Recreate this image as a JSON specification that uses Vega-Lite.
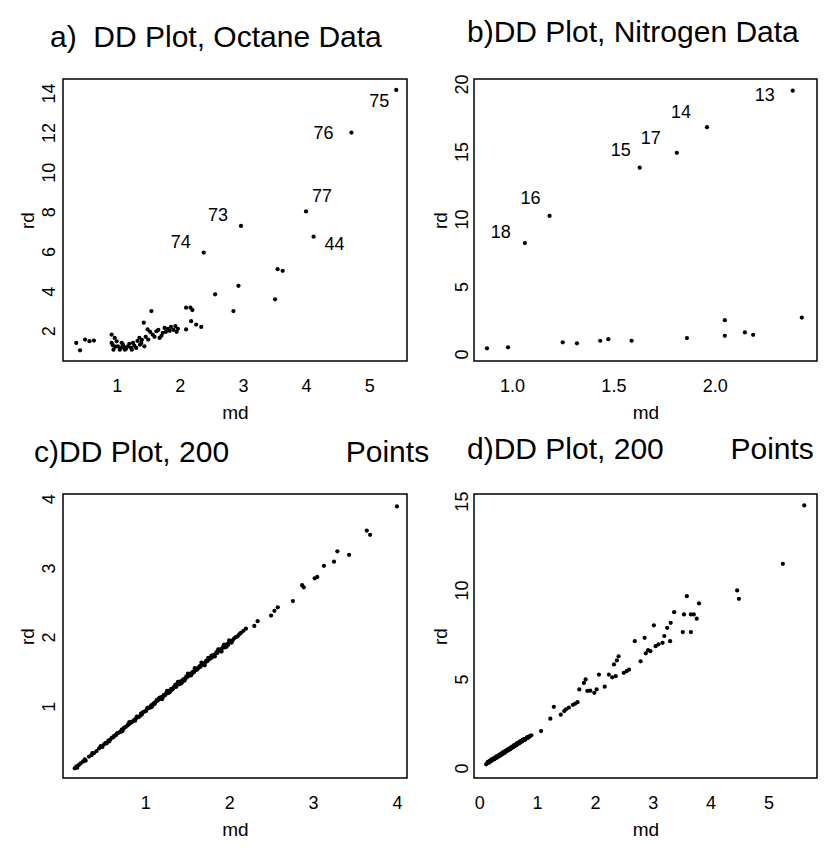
{
  "$schema": "https://vega.github.io/schema/vega-lite/v6.json",
  "padding": {"left": 17, "top": 17, "right": 5, "bottom": 5},
  "background": "white",
  "columns": 2,
  "bounds": "flush",
  "spacing": {"row": 133, "column": 67},
  "datasets": {
    "a": [
      {"md":0.36,"rd":1.39},{"md":0.42,"rd":1.02},{"md":0.50,"rd":1.56},{"md":0.57,"rd":1.48},{"md":0.64,"rd":1.51},
      {"md":0.92,"rd":1.81},{"md":0.92,"rd":1.39},{"md":0.95,"rd":1.05},{"md":0.97,"rd":1.64},{"md":1.00,"rd":1.47},
      {"md":1.02,"rd":1.22},{"md":1.05,"rd":1.05},{"md":1.10,"rd":1.30},{"md":1.13,"rd":1.05},{"md":1.18,"rd":1.22},
      {"md":1.23,"rd":1.14},{"md":1.26,"rd":1.39},{"md":1.31,"rd":1.14},{"md":1.36,"rd":1.64},{"md":1.39,"rd":1.39},
      {"md":1.44,"rd":1.22},{"md":1.43,"rd":2.41},{"md":1.55,"rd":3.00},{"md":1.49,"rd":2.07},{"md":1.57,"rd":1.81},
      {"md":1.50,"rd":1.56},{"md":1.63,"rd":1.98},{"md":1.68,"rd":1.64},{"md":1.73,"rd":1.90},{"md":1.76,"rd":2.15},
      {"md":1.81,"rd":2.10},{"md":1.86,"rd":2.20},{"md":1.90,"rd":2.05},{"md":1.93,"rd":2.24},{"md":1.97,"rd":2.10},
      {"md":2.10,"rd":2.07},{"md":2.18,"rd":2.49},{"md":2.26,"rd":2.32},{"md":2.34,"rd":2.20},{"md":2.10,"rd":3.17},
      {"md":2.17,"rd":3.17},{"md":2.20,"rd":3.05},{"md":2.93,"rd":4.27},{"md":2.56,"rd":3.84},{"md":2.85,"rd":3.00},
      {"md":3.55,"rd":5.11},{"md":3.63,"rd":5.03},{"md":3.51,"rd":3.59},
      {"md":1.07,"rd":1.15},{"md":1.15,"rd":1.10},{"md":1.20,"rd":1.35},{"md":1.28,"rd":1.25},{"md":1.33,"rd":1.50},
      {"md":0.98,"rd":1.20},{"md":1.08,"rd":1.40},{"md":1.40,"rd":1.55},{"md":1.46,"rd":1.70},{"md":1.53,"rd":1.95},
      {"md":1.60,"rd":1.70},{"md":1.66,"rd":2.05},{"md":1.71,"rd":1.75},{"md":1.78,"rd":1.95},{"md":1.84,"rd":2.00},
      {"md":1.95,"rd":1.95},{"md":1.12,"rd":1.18},{"md":1.24,"rd":1.05},{"md":0.94,"rd":1.28},{"md":1.37,"rd":1.30},
      {"md":2.38,"rd":5.95,"lab":"74"},{"md":2.97,"rd":7.29,"lab":"73"},{"md":4.00,"rd":8.02,"lab":"77"},
      {"md":4.12,"rd":6.75,"lab":"44"},{"md":4.72,"rd":12.00,"lab":"76"},{"md":5.43,"rd":14.15,"lab":"75"}
    ],
    "b": [
      {"md":0.876,"rd":0.42},{"md":0.98,"rd":0.49},{"md":1.25,"rd":0.86},{"md":1.32,"rd":0.79},{"md":1.435,"rd":0.98},
      {"md":1.475,"rd":1.10},{"md":1.59,"rd":0.98},{"md":1.863,"rd":1.18},{"md":2.05,"rd":2.50},{"md":2.05,"rd":1.35},
      {"md":2.149,"rd":1.60},{"md":2.19,"rd":1.42},{"md":2.43,"rd":2.70},
      {"md":2.385,"rd":19.5,"lab":"13"},{"md":1.962,"rd":16.8,"lab":"14"},{"md":1.813,"rd":14.9,"lab":"17"},
      {"md":1.63,"rd":13.8,"lab":"15"},{"md":1.185,"rd":10.23,"lab":"16"},{"md":1.063,"rd":8.22,"lab":"18"}
    ],
    "c": [
      {"md":0.16,"rd":0.10},{"md":0.18,"rd":0.13},{"md":0.19,"rd":0.11},{"md":0.21,"rd":0.15},{"md":0.23,"rd":0.17},
      {"md":0.26,"rd":0.20},{"md":0.28,"rd":0.23},{"md":0.29,"rd":0.21},{"md":0.33,"rd":0.27},{"md":0.36,"rd":0.29},
      {"md":0.37,"rd":0.32},{"md":0.39,"rd":0.32},{"md":0.42,"rd":0.35},{"md":0.45,"rd":0.39},{"md":0.47,"rd":0.42},
      {"md":0.49,"rd":0.41},{"md":0.51,"rd":0.45},{"md":0.53,"rd":0.47},{"md":0.54,"rd":0.46},{"md":0.56,"rd":0.50},
      {"md":0.58,"rd":0.51},{"md":0.60,"rd":0.54},{"md":0.62,"rd":0.55},{"md":0.63,"rd":0.57},{"md":0.65,"rd":0.58},
      {"md":0.67,"rd":0.61},{"md":0.69,"rd":0.62},{"md":0.71,"rd":0.63},{"md":0.72,"rd":0.66},{"md":0.74,"rd":0.67},
      {"md":0.75,"rd":0.69},{"md":0.77,"rd":0.70},{"md":0.79,"rd":0.72},{"md":0.80,"rd":0.74},{"md":0.82,"rd":0.75},
      {"md":0.84,"rd":0.77},{"md":0.85,"rd":0.78},{"md":0.87,"rd":0.80},{"md":0.89,"rd":0.82},{"md":0.90,"rd":0.85},
      {"md":0.92,"rd":0.84},{"md":0.94,"rd":0.86},{"md":0.96,"rd":0.88},{"md":0.97,"rd":0.91},{"md":0.99,"rd":0.92},
      {"md":1.01,"rd":0.93},{"md":1.02,"rd":0.96},{"md":1.04,"rd":0.97},{"md":1.06,"rd":0.98},{"md":1.07,"rd":1.01},
      {"md":1.09,"rd":1.02},{"md":1.10,"rd":1.04},{"md":1.12,"rd":1.05},{"md":1.13,"rd":1.07},{"md":1.15,"rd":1.08},
      {"md":1.16,"rd":1.10},{"md":1.18,"rd":1.11},{"md":1.19,"rd":1.13},{"md":1.21,"rd":1.13},{"md":1.22,"rd":1.16},
      {"md":1.24,"rd":1.16},{"md":1.25,"rd":1.19},{"md":1.27,"rd":1.19},{"md":1.28,"rd":1.22},{"md":1.30,"rd":1.22},
      {"md":1.31,"rd":1.25},{"md":1.32,"rd":1.24},{"md":1.34,"rd":1.27},{"md":1.35,"rd":1.29},{"md":1.37,"rd":1.28},
      {"md":1.38,"rd":1.31},{"md":1.40,"rd":1.33},{"md":1.41,"rd":1.32},{"md":1.42,"rd":1.36},{"md":1.44,"rd":1.35},
      {"md":1.45,"rd":1.38},{"md":1.46,"rd":1.39},{"md":1.48,"rd":1.40},{"md":1.49,"rd":1.43},{"md":1.50,"rd":1.42},
      {"md":1.52,"rd":1.45},{"md":1.53,"rd":1.44},{"md":1.54,"rd":1.47},{"md":1.56,"rd":1.48},{"md":1.57,"rd":1.50},
      {"md":1.58,"rd":1.49},{"md":1.60,"rd":1.52},{"md":1.61,"rd":1.54},{"md":1.62,"rd":1.53},{"md":1.64,"rd":1.56},
      {"md":1.65,"rd":1.58},{"md":1.66,"rd":1.57},{"md":1.68,"rd":1.60},{"md":1.69,"rd":1.62},{"md":1.70,"rd":1.61},
      {"md":1.72,"rd":1.64},{"md":1.73,"rd":1.66},{"md":1.74,"rd":1.65},{"md":1.76,"rd":1.68},{"md":1.77,"rd":1.70},
      {"md":1.78,"rd":1.69},{"md":1.80,"rd":1.71},{"md":1.81,"rd":1.74},{"md":1.82,"rd":1.73},{"md":1.84,"rd":1.76},
      {"md":1.85,"rd":1.78},{"md":1.86,"rd":1.77},{"md":1.88,"rd":1.80},{"md":1.89,"rd":1.82},{"md":1.90,"rd":1.81},
      {"md":1.92,"rd":1.84},{"md":1.93,"rd":1.86},{"md":1.95,"rd":1.85},{"md":1.96,"rd":1.88},{"md":1.98,"rd":1.90},
      {"md":1.99,"rd":1.89},{"md":2.01,"rd":1.93},{"md":2.02,"rd":1.94},{"md":2.04,"rd":1.95},{"md":2.06,"rd":1.98},
      {"md":2.08,"rd":2.00},{"md":2.10,"rd":2.01},{"md":2.12,"rd":2.04},{"md":2.14,"rd":2.06},{"md":2.17,"rd":2.09},
      {"md":2.20,"rd":2.12},
      {"md":1.33,"rd":1.25},{"md":1.39,"rd":1.35},{"md":1.47,"rd":1.37},{"md":1.51,"rd":1.47},{"md":1.55,"rd":1.45},
      {"md":1.59,"rd":1.55},{"md":1.63,"rd":1.55},{"md":1.67,"rd":1.63},{"md":1.71,"rd":1.59},{"md":1.75,"rd":1.70},
      {"md":1.79,"rd":1.73},{"md":1.83,"rd":1.72},{"md":1.87,"rd":1.82},{"md":1.91,"rd":1.79},{"md":1.94,"rd":1.89},
      {"md":1.97,"rd":1.86},{"md":2.00,"rd":1.95},{"md":2.03,"rd":1.92},{"md":1.26,"rd":1.22},{"md":1.20,"rd":1.10},
      {"md":1.14,"rd":1.09},{"md":1.08,"rd":0.99},{"md":1.03,"rd":0.98},{"md":0.95,"rd":0.89},{"md":0.88,"rd":0.79},
      {"md":0.81,"rd":0.77},{"md":0.73,"rd":0.64},{"md":0.66,"rd":0.60},{"md":0.57,"rd":0.49},{"md":1.43,"rd":1.33},
      {"md":1.36,"rd":1.31},{"md":1.29,"rd":1.20},{"md":1.17,"rd":1.12},{"md":1.11,"rd":1.03},
      {"md":2.30,"rd":2.16},{"md":2.34,"rd":2.23},{"md":2.50,"rd":2.31},{"md":2.54,"rd":2.38},{"md":2.58,"rd":2.43},
      {"md":2.76,"rd":2.52},{"md":2.87,"rd":2.75},{"md":2.89,"rd":2.72},{"md":3.02,"rd":2.85},{"md":3.05,"rd":2.87},
      {"md":3.13,"rd":3.03},{"md":3.25,"rd":3.09},{"md":3.29,"rd":3.24},{"md":3.43,"rd":3.19},{"md":3.64,"rd":3.54},
      {"md":3.68,"rd":3.48},{"md":4.00,"rd":3.89}
    ],
    "d": [
      {"md":5.62,"rd":14.76},{"md":5.25,"rd":11.48},{"md":4.46,"rd":9.98},{"md":4.49,"rd":9.51},{"md":3.59,"rd":9.66},
      {"md":3.80,"rd":9.25},{"md":3.71,"rd":8.63},{"md":3.76,"rd":8.39},{"md":3.66,"rd":8.63},{"md":3.37,"rd":8.76},
      {"md":3.54,"rd":8.63},{"md":3.02,"rd":8.02},{"md":3.31,"rd":8.16},{"md":3.25,"rd":7.88},{"md":3.20,"rd":7.42},
      {"md":3.17,"rd":7.04},{"md":3.52,"rd":7.64},{"md":3.66,"rd":7.64},{"md":3.30,"rd":7.13},{"md":2.86,"rd":7.32},
      {"md":2.69,"rd":7.13},{"md":2.96,"rd":6.57},{"md":3.05,"rd":6.85},{"md":3.10,"rd":6.95},{"md":2.79,"rd":6.00},
      {"md":2.88,"rd":6.45},{"md":2.92,"rd":6.62},{"md":2.59,"rd":5.53},{"md":2.55,"rd":5.45},{"md":2.50,"rd":5.35},
      {"md":2.41,"rd":6.28},{"md":2.38,"rd":6.05},{"md":2.33,"rd":5.82},{"md":2.36,"rd":5.16},{"md":2.30,"rd":5.10},
      {"md":2.24,"rd":5.25},{"md":2.07,"rd":5.25},{"md":2.17,"rd":4.57},{"md":2.03,"rd":4.42},{"md":1.99,"rd":4.23},
      {"md":1.87,"rd":4.33},{"md":1.92,"rd":4.35},{"md":1.81,"rd":4.78},{"md":1.84,"rd":4.98},{"md":1.73,"rd":4.42},
      {"md":1.70,"rd":3.70},{"md":1.66,"rd":3.62},{"md":1.62,"rd":3.55},{"md":1.55,"rd":3.40},{"md":1.50,"rd":3.30},
      {"md":1.47,"rd":3.20},{"md":1.41,"rd":3.00},{"md":1.29,"rd":3.44},{"md":1.23,"rd":2.77},{"md":1.07,"rd":2.08},
      {"md":0.12,"rd":0.21},{"md":0.14,"rd":0.28},{"md":0.15,"rd":0.35},{"md":0.17,"rd":0.30},{"md":0.18,"rd":0.40},
      {"md":0.20,"rd":0.38},{"md":0.21,"rd":0.48},{"md":0.22,"rd":0.42},{"md":0.24,"rd":0.50},{"md":0.25,"rd":0.55},
      {"md":0.26,"rd":0.48},{"md":0.28,"rd":0.60},{"md":0.29,"rd":0.55},{"md":0.30,"rd":0.66},{"md":0.31,"rd":0.60},
      {"md":0.33,"rd":0.70},{"md":0.34,"rd":0.65},{"md":0.35,"rd":0.75},{"md":0.36,"rd":0.70},{"md":0.38,"rd":0.80},
      {"md":0.39,"rd":0.76},{"md":0.40,"rd":0.86},{"md":0.41,"rd":0.80},{"md":0.43,"rd":0.90},{"md":0.44,"rd":0.85},
      {"md":0.45,"rd":0.96},{"md":0.46,"rd":0.92},{"md":0.48,"rd":1.00},{"md":0.49,"rd":0.97},{"md":0.50,"rd":1.06},
      {"md":0.51,"rd":1.02},{"md":0.53,"rd":1.10},{"md":0.54,"rd":1.06},{"md":0.55,"rd":1.16},{"md":0.56,"rd":1.12},
      {"md":0.58,"rd":1.22},{"md":0.59,"rd":1.17},{"md":0.60,"rd":1.28},{"md":0.61,"rd":1.22},{"md":0.63,"rd":1.32},
      {"md":0.64,"rd":1.28},{"md":0.65,"rd":1.38},{"md":0.66,"rd":1.33},{"md":0.68,"rd":1.42},{"md":0.69,"rd":1.38},
      {"md":0.70,"rd":1.48},{"md":0.71,"rd":1.44},{"md":0.73,"rd":1.52},{"md":0.74,"rd":1.49},{"md":0.75,"rd":1.58},
      {"md":0.77,"rd":1.56},{"md":0.78,"rd":1.63},{"md":0.80,"rd":1.62},{"md":0.82,"rd":1.68},{"md":0.84,"rd":1.70},
      {"md":0.86,"rd":1.76},{"md":0.88,"rd":1.80},{"md":0.90,"rd":1.84},{"md":0.37,"rd":0.74},{"md":0.42,"rd":0.88},
      {"md":0.47,"rd":0.98},{"md":0.52,"rd":1.08},{"md":0.57,"rd":1.18},{"md":0.62,"rd":1.30},{"md":0.67,"rd":1.40},
      {"md":0.72,"rd":1.50},{"md":0.76,"rd":1.60},{"md":0.27,"rd":0.56},{"md":0.32,"rd":0.66},{"md":0.79,"rd":1.58},
      {"md":0.83,"rd":1.74},{"md":0.85,"rd":1.72}
    ]
  },
  "concat": [
    {
      "width": 344, "height": 282,
      "title": {"text": "a)\u00a0\u00a0DD Plot, Octane Data", "dx": -13},
      "data": {"name": "a"},
      "encoding": {
        "x": {"field": "md", "type": "quantitative", "scale": {"domain": [0.15, 5.6], "nice": false, "zero": false}, "axis": {"values": [1, 2, 3, 4, 5], "title": "md"}},
        "y": {"field": "rd", "type": "quantitative", "scale": {"domain": [0.48, 14.7], "nice": false, "zero": false}, "axis": {"values": [2, 4, 6, 8, 10, 12, 14], "title": "rd"}}
      },
      "layer": [
        {"mark": {"type": "circle", "size": 18, "color": "black", "opacity": 1}},
        {"transform": [{"filter": "datum.lab == '73' || datum.lab == '74'"}], "mark": {"type": "text", "align": "right", "baseline": "middle", "dx": -13, "dy": -10}, "encoding": {"text": {"field": "lab"}}},
        {"transform": [{"filter": "datum.lab == '76'"}], "mark": {"type": "text", "align": "right", "baseline": "middle", "dx": -18, "dy": 1}, "encoding": {"text": {"field": "lab"}}},
        {"transform": [{"filter": "datum.lab == '75'"}], "mark": {"type": "text", "align": "right", "baseline": "middle", "dx": -7, "dy": 12}, "encoding": {"text": {"field": "lab"}}},
        {"transform": [{"filter": "datum.lab == '77'"}], "mark": {"type": "text", "align": "left", "baseline": "middle", "dx": 6, "dy": -14}, "encoding": {"text": {"field": "lab"}}},
        {"transform": [{"filter": "datum.lab == '44'"}], "mark": {"type": "text", "align": "left", "baseline": "middle", "dx": 11, "dy": 8}, "encoding": {"text": {"field": "lab"}}}
      ]
    },
    {
      "width": 343, "height": 282,
      "title": {"text": "b)DD Plot, Nitrogen Data", "dx": -7},
      "data": {"name": "b"},
      "encoding": {
        "x": {"field": "md", "type": "quantitative", "scale": {"domain": [0.812, 2.505], "nice": false, "zero": false}, "axis": {"values": [1.0, 1.5, 2.0], "format": ".1f", "title": "md"}},
        "y": {"field": "rd", "type": "quantitative", "scale": {"domain": [-0.52, 20.37], "nice": false, "zero": false}, "axis": {"values": [0, 5, 10, 15, 20], "title": "rd", "labelPadding": 3}}
      },
      "layer": [
        {"mark": {"type": "circle", "size": 18, "color": "black", "opacity": 1}},
        {"transform": [{"filter": "datum.lab == '18'"}], "mark": {"type": "text", "align": "right", "baseline": "middle", "dx": -14, "dy": -10}, "encoding": {"text": {"field": "lab"}}},
        {"transform": [{"filter": "datum.lab == '14' || datum.lab == '17'"}], "mark": {"type": "text", "align": "right", "baseline": "middle", "dx": -16, "dy": -14}, "encoding": {"text": {"field": "lab"}}},
        {"transform": [{"filter": "datum.lab == '15' || datum.lab == '16'"}], "mark": {"type": "text", "align": "right", "baseline": "middle", "dx": -9, "dy": -17}, "encoding": {"text": {"field": "lab"}}},
        {"transform": [{"filter": "datum.lab == '13'"}], "mark": {"type": "text", "align": "right", "baseline": "middle", "dx": -18, "dy": 5}, "encoding": {"text": {"field": "lab"}}}
      ]
    },
    {
      "width": 344, "height": 284,
      "title": {"text": "c)DD Plot, 200\u00a0\u00a0\u00a0\u00a0\u00a0\u00a0\u00a0\u00a0\u00a0\u00a0\u00a0\u00a0\u00a0\u00a0Points", "dx": -29},
      "data": {"name": "c"},
      "mark": {"type": "circle", "size": 18, "color": "black", "opacity": 1},
      "encoding": {
        "x": {"field": "md", "type": "quantitative", "scale": {"domain": [0.02, 4.12], "nice": false, "zero": false}, "axis": {"values": [1, 2, 3, 4], "title": "md"}},
        "y": {"field": "rd", "type": "quantitative", "scale": {"domain": [-0.04, 4.07], "nice": false, "zero": false}, "axis": {"values": [1, 2, 3, 4], "title": "rd"}}
      }
    },
    {
      "width": 343, "height": 284,
      "title": {"text": "d)DD Plot, 200\u00a0\u00a0\u00a0\u00a0\u00a0\u00a0\u00a0\u00a0Points", "dx": -7},
      "data": {"name": "d"},
      "mark": {"type": "circle", "size": 18, "color": "black", "opacity": 1},
      "encoding": {
        "x": {"field": "md", "type": "quantitative", "scale": {"domain": [-0.09, 5.84], "nice": false, "zero": false}, "axis": {"values": [0, 1, 2, 3, 4, 5], "title": "md"}},
        "y": {"field": "rd", "type": "quantitative", "scale": {"domain": [-0.56, 15.4], "nice": false, "zero": false}, "axis": {"values": [0, 5, 10, 15], "title": "rd", "labelPadding": 3}}
      }
    }
  ],
  "config": {
    "font": "Liberation Sans",
    "view": {"stroke": "black", "strokeWidth": 1.5, "fill": "white"},
    "text": {"font": "Liberation Sans", "fontSize": 18, "color": "black"},
    "title": {"font": "Liberation Sans", "fontSize": 30, "fontWeight": "normal", "color": "black", "anchor": "start", "frame": "group", "baseline": "alphabetic", "offset": 26},
    "axis": {"domain": false, "ticks": false, "tickSize": 0, "grid": false, "labelFont": "Liberation Sans", "labelFontSize": 18, "labelColor": "black", "labelFlush": false, "labelOverlap": false, "titleFont": "Liberation Sans", "titleFontSize": 19, "titleFontWeight": "normal", "titleColor": "black"},
    "axisX": {"labelPadding": 16, "titlePadding": 8},
    "axisY": {"labelAngle": -90, "labelAlign": "center", "labelBaseline": "bottom", "labelPadding": 5, "titlePadding": 3}
  }
}
